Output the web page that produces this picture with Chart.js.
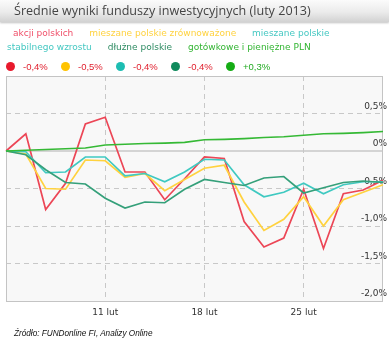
<!DOCTYPE html>
<html>
<head>
<meta charset="utf-8">
<script src="https://cdn.jsdelivr.net/npm/chart.js@4"></script>
<style>
  html, body { margin: 0; padding: 0; background: #fff; }
  #wrap { position: relative; width: 389px; height: 348px; overflow: hidden; }
  #chart { position: absolute; left: 0; top: 0; }
  #head { position: absolute; left: 0; top: 0; width: 389px; height: 22px;
    background: linear-gradient(to bottom, #fbfbfb 0%, #ebebeb 55%, #d2d2d2 100%);
    box-shadow: 0 1px 2px rgba(0,0,0,0.25); }
  #title { position: absolute; left: 14px; top: 0; line-height: 22px; white-space: nowrap;
    font-family: "Open Sans", sans-serif; font-size: 14px; color: #444; }
  #names { position: absolute; left: 7px; top: 26px; width: 372px; text-indent: 6px;
    font-family: "DejaVu Sans", sans-serif; font-size: 9px; line-height: 14px; }
  #names span { margin-right: 13px; }
  #vals { position: absolute; left: 6px; top: 62px; font-family: "Liberation Sans", sans-serif; font-size: 9.5px;
    line-height: 10px; white-space: nowrap; }
  #vals .it { display: inline-block; width: 55px; }
  #vals .dot { display: inline-block; width: 9px; height: 9px; border-radius: 50%; vertical-align: -1px; margin-right: 8px; }
  #src { position: absolute; left: 14px; top: 329px; font-family: "Liberation Sans", sans-serif; font-style: italic;
    font-size: 8.2px; color: #111; }
</style>
</head>
<body>
<div id="wrap">
  <canvas id="chart" width="389" height="348"></canvas>
  <div id="head"><div id="title">Średnie wyniki funduszy inwestycyjnych (luty 2013)</div></div>
  <div id="names"></div>
  <div id="vals"></div>
  <div id="src">Źródło: FUNDonline FI, Analizy Online</div>
</div>
<script>
// sesje w lutym 2013
const days = ['4 lut', '5 lut', '6 lut', '7 lut', '8 lut', '11 lut', '12 lut', '13 lut', '14 lut', '15 lut',
  '18 lut', '19 lut', '20 lut', '21 lut', '22 lut', '25 lut', '26 lut', '27 lut', '28 lut', '1 mar'];
const shownDays = ['11 lut', '18 lut', '25 lut'];

const seriesNames = ['akcji polskich', 'mieszane polskie zrównoważone', 'mieszane polskie stabilnego wzrostu',
  'dłużne polskie', 'gotówkowe i pieniężne PLN'];
const lineColors = ['#ec4656', '#ffd23f', '#3fc9c1', '#35a07a', '#35b935'];
const dotColors = ['#e8192c', '#ffc300', '#1dbdb2', '#108a5c', '#15ac15'];
const nameColors = ['#f0506a', '#ffd23f', '#45c8c2', '#2e8b62', '#33b533'];
const monthResults = ['-0,4%', '-0,5%', '-0,4%', '-0,4%', '+0,3%'];

// wyniki narastająco, %
const akcje = [0, 0.23, -0.78, -0.43, 0.36, 0.45, -0.28, -0.28, -0.65, -0.37,
  -0.08, -0.10, -0.94, -1.28, -1.16, -0.51, -1.30, -0.57, -0.52, -0.39];
const zrownowazone = [0, -0.04, -0.50, -0.51, -0.12, -0.13, -0.35, -0.30, -0.53, -0.38,
  -0.23, -0.19, -0.68, -1.06, -0.91, -0.61, -1.00, -0.65, -0.55, -0.45];
const stabilne = [0, -0.01, -0.29, -0.28, -0.08, -0.08, -0.33, -0.30, -0.41, -0.28,
  -0.11, -0.12, -0.45, -0.61, -0.55, -0.43, -0.57, -0.45, -0.41, -0.41];
const dluzne = [0, -0.05, -0.25, -0.42, -0.44, -0.63, -0.76, -0.68, -0.69, -0.51,
  -0.38, -0.42, -0.46, -0.36, -0.34, -0.56, -0.49, -0.42, -0.40, -0.42];
const gotowkowe = [0, 0.01, 0.02, 0.03, 0.04, 0.08, 0.09, 0.10, 0.105, 0.115,
  0.15, 0.155, 0.165, 0.18, 0.19, 0.21, 0.23, 0.235, 0.245, 0.26];

const yTicks = [1, 0.5, 0, -0.5, -1, -1.5, -2];

// legenda
var names = document.getElementById('names');
seriesNames.forEach(function (n, i) {
  var s = document.createElement('span');
  s.textContent = n;
  s.style.color = nameColors[i];
  names.appendChild(s);
  names.appendChild(document.createTextNode(' '));
});
var vals = document.getElementById('vals');
monthResults.forEach(function (v, i) {
  var it = document.createElement('span');
  it.className = 'it';
  it.innerHTML = '<span class="dot" style="background:' + dotColors[i] + '"></span>';
  var t = document.createElement('span');
  t.textContent = v;
  t.style.color = v.charAt(0) === '+' ? '#22aa22' : '#e0202e';
  it.appendChild(t);
  vals.appendChild(it);
});

// tytuł dopasowany do szerokości z oryginału
var title = document.getElementById('title');
var w = title.getBoundingClientRect().width;
title.style.fontSize = (14 * 297 / w).toFixed(2) + 'px';

const plotFrame = {
  id: 'plotFrame',
  beforeDraw(chart) {
    const a = chart.chartArea, c = chart.ctx;
    c.save();
    c.fillStyle = '#f8f8f8';
    c.fillRect(a.left, a.top, a.right - a.left, a.bottom - a.top);
    c.restore();
  },
  beforeDatasetsDraw(chart) {
    const a = chart.chartArea, c = chart.ctx;
    const y0 = chart.scales.y.getPixelForValue(0);
    c.save();
    c.strokeStyle = '#c8c8c8';
    c.lineWidth = 1.5;
    c.beginPath();
    c.moveTo(a.left, y0);
    c.lineTo(a.right, y0);
    c.stroke();
    c.lineWidth = 1;
    c.strokeStyle = '#c4c4c4';
    c.strokeRect(a.left + 0.5, a.top + 0.5, a.right - a.left - 1, a.bottom - a.top);
    c.restore();
  }
};

const allSeries = [akcje, zrownowazone, stabilne, dluzne, gotowkowe];
const tickFont = { family: 'DejaVu Sans', size: 9 };

new Chart(document.getElementById('chart').getContext('2d'), {
  type: 'line',
  data: {
    labels: days,
    datasets: allSeries.map(function (d, i) {
      return { label: seriesNames[i], data: d, borderColor: lineColors[i], backgroundColor: lineColors[i],
        borderWidth: 1.7, pointRadius: 0, tension: 0, fill: false };
    }).reverse()
  },
  options: {
    responsive: false,
    animation: false,
    devicePixelRatio: 1,
    layout: { padding: { left: 5, right: 1, top: 76, bottom: 27 } },
    plugins: { legend: { display: false }, tooltip: { enabled: false } },
    scales: {
      x: {
        offset: false,
        grid: { drawTicks: false, lineWidth: 1,
          color: function (ctx) { return shownDays.includes(days[ctx.index]) ? '#c8c8c8' : 'rgba(0,0,0,0)'; } },
        border: { display: false, dash: [5, 4] },
        ticks: { autoSkip: false, maxRotation: 0, padding: 6, color: '#333', font: tickFont,
          callback: function (v, i) { return shownDays.includes(days[i]) ? days[i] : ''; } },
        afterFit: function (s) { s.height = 20; }
      },
      y: {
        position: 'right',
        min: -2, max: 1,
        afterBuildTicks: function (s) { s.ticks = yTicks.map(function (v) { return { value: v }; }); },
        grid: { drawTicks: false, lineWidth: 1,
          color: function (ctx) { var v = ctx.tick ? ctx.tick.value : null; return (v === 0 || v === 1) ? 'rgba(0,0,0,0)' : '#c8c8c8'; } },
        border: { display: false, dash: [5, 4] },
        ticks: { mirror: true, padding: 4, labelOffset: -7, color: '#333', font: tickFont,
          callback: function (v) {
            if (v >= 1) return '';
            return v === 0 ? '0%' : v.toFixed(1).replace('.', ',') + '%';
          } },
        afterFit: function (s) { s.width = 0; }
      }
    }
  },
  plugins: [plotFrame]
});
</script>
</body>
</html>
